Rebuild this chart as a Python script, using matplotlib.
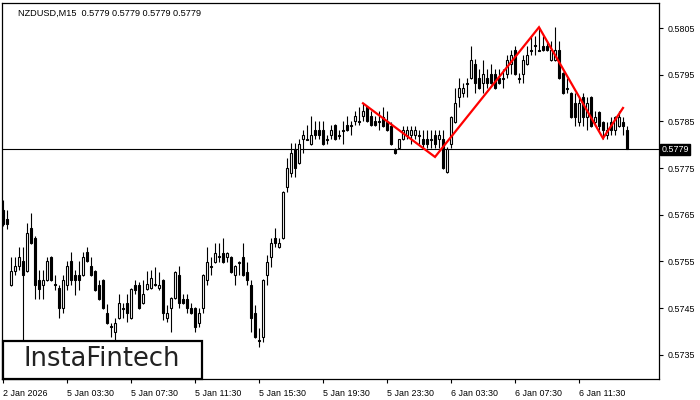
import numpy as np
import matplotlib
matplotlib.use("Agg")
import matplotlib.pyplot as plt
from matplotlib.patches import Rectangle

# NZDUSD M15 candles (one row of values per candle index)
opens = [
    .57660, .57641, .57499, .57529, .57540, .57551, .57529, .57621, .57600, .57510,
    .57499, .57510, .57559, .57501, .57493, .57450, .57499, .57551, .57521, .57521,
    .57521, .57570, .57540, .57529, .57499, .57510, .57439, .57411, .57399, .57429,
    .57450, .57461, .57429, .57499, .57499, .57461, .57491, .57493, .57501, .57493,
    .57510, .57429, .57450, .57471, .57521, .57469, .57469, .57450, .57450, .57418,
    .57450, .57510, .57540, .57549, .57561, .57568, .57559, .57559, .57521, .57549,
    .57559, .57527, .57499, .57439, .57381, .57388, .57521, .57559, .57600, .57581,
    .57600, .57709, .57739, .57791, .57761, .57812, .57812, .57801, .57831, .57831,
    .57831, .57812, .57821, .57842, .57821, .57831, .57842, .57842, .57851, .57851,
    .57861, .57881, .57861, .57851, .57851, .57859, .57849, .57840, .57791, .57793,
    .57812, .57821, .57821, .57821, .57821, .57812, .57812, .57812, .57821, .57812,
    .57812, .57741, .57801, .57849, .57902, .57911, .57932, .57943, .57973, .57943,
    .57932, .57943, .57951, .57951, .57943, .57943, .57951, .57973, .58003, .57943,
    .57951, .57973, .58003, .58014, .58003, .58011, .58011, .57981, .57981, .58003,
    .57954, .57921, .57911, .57889, .57849, .57902, .57859, .57902, .57849, .57870,
    .57849, .57821, .57849, .57831, .57840, .57849, .57831,
]
highs = [
    .57681, .57660, .57559, .57559, .57581, .57581, .57632, .57654, .57604, .57531,
    .57531, .57559, .57561, .57521, .57499, .57521, .57551, .57570, .57531, .57551,
    .57570, .57581, .57559, .57531, .57510, .57512, .57459, .57418, .57429, .57480,
    .57461, .57480, .57493, .57510, .57506, .57510, .57529, .57531, .57538, .57527,
    .57512, .57456, .57474, .57529, .57540, .57480, .57480, .57461, .57452, .57450,
    .57523, .57581, .57559, .57589, .57589, .57600, .57570, .57561, .57542, .57551,
    .57589, .57549, .57510, .57456, .57407, .57512, .57564, .57600, .57621, .57600,
    .57701, .57771, .57804, .57804, .57812, .57831, .57842, .57861, .57851, .57851,
    .57851, .57821, .57842, .57844, .57831, .57851, .57861, .57851, .57872, .57881,
    .57889, .57883, .57872, .57861, .57872, .57881, .57872, .57849, .57793, .57812,
    .57840, .57840, .57840, .57840, .57831, .57831, .57831, .57831, .57831, .57831,
    .57831, .57795, .57861, .57921, .57943, .57932, .57943, .58011, .57984, .57962,
    .57981, .57962, .57973, .57962, .57962, .57962, .57992, .58003, .58011, .57954,
    .57992, .58011, .58033, .58033, .58052, .58033, .58022, .58022, .58052, .58022,
    .57956, .57943, .57913, .57911, .57902, .57911, .57902, .57904, .57872, .57872,
    .57851, .57849, .57859, .57861, .57872, .57859, .57840,
]
lows = [
    .57626, .57619, .57497, .57521, .57531, .57371, .57527, .57587, .57469, .57469,
    .57469, .57508, .57508, .57489, .57429, .57439, .57489, .57499, .57478, .57489,
    .57519, .57549, .57519, .57486, .57467, .57448, .57416, .57388, .57381, .57426,
    .57429, .57420, .57426, .57480, .57448, .57459, .57489, .57491, .57497, .57489,
    .57424, .57420, .57399, .57469, .57450, .57459, .57439, .57437, .57399, .57409,
    .57439, .57499, .57521, .57546, .57549, .57546, .57549, .57525, .57499, .57521,
    .57519, .57499, .57399, .57386, .57366, .57377, .57499, .57538, .57581, .57579,
    .57598, .57699, .57731, .57731, .57759, .57782, .57810, .57799, .57812, .57812,
    .57799, .57801, .57812, .57810, .57812, .57801, .57829, .57821, .57842, .57842,
    .57851, .57849, .57840, .57840, .57831, .57838, .57829, .57799, .57780, .57791,
    .57810, .57812, .57801, .57812, .57801, .57793, .57793, .57793, .57793, .57793,
    .57748, .57739, .57793, .57846, .57881, .57902, .57902, .57941, .57911, .57919,
    .57911, .57921, .57930, .57919, .57930, .57921, .57943, .57951, .57949, .57932,
    .57932, .57971, .57992, .57992, .58001, .58001, .58001, .57979, .57979, .57941,
    .57909, .57911, .57857, .57840, .57840, .57840, .57831, .57838, .57840, .57831,
    .57812, .57812, .57821, .57821, .57838, .57821, .57790,
]
closes = [
    .57630, .57630, .57529, .57540, .57559, .57521, .57611, .57589, .57499, .57491,
    .57510, .57551, .57510, .57499, .57450, .57510, .57540, .57510, .57510, .57510,
    .57559, .57551, .57521, .57489, .57469, .57450, .57418, .57409, .57418, .57461,
    .57448, .57439, .57491, .57489, .57450, .57480, .57501, .57514, .57499, .57499,
    .57439, .57439, .57471, .57527, .57461, .57461, .57450, .57439, .57409, .57439,
    .57521, .57549, .57538, .57568, .57559, .57549, .57568, .57527, .57540, .57546,
    .57521, .57510, .57429, .57388, .57379, .57510, .57549, .57589, .57589, .57589,
    .57699, .57750, .57782, .57750, .57801, .57821, .57810, .57821, .57821, .57821,
    .57801, .57810, .57831, .57812, .57819, .57829, .57831, .57840, .57861, .57849,
    .57872, .57851, .57842, .57842, .57849, .57840, .57831, .57801, .57782, .57812,
    .57831, .57831, .57831, .57831, .57819, .57801, .57801, .57810, .57801, .57821,
    .57750, .57791, .57859, .57889, .57921, .57921, .57930, .57981, .57932, .57921,
    .57951, .57932, .57932, .57921, .57932, .57941, .57981, .57992, .57951, .57941,
    .57981, .57992, .58001, .58011, .58001, .58003, .58003, .58003, .58003, .57943,
    .57911, .57919, .57859, .57859, .57889, .57859, .57889, .57840, .57859, .57840,
    .57831, .57831, .57831, .57859, .57859, .57840, .57790,
]

# head and shoulders pattern drawn over the chart (bar index, price)
pattern_x = [90, 108, 134, 150, 155]
pattern_y = [0.57889, 0.57774, 0.58052, 0.57814, 0.57879]

time_ticks = [0, 16, 32, 48, 64, 80, 96, 112, 128, 144]
time_labels = ['2 Jan 2026', '5 Jan 03:30', '5 Jan 07:30', '5 Jan 11:30', '5 Jan 15:30',
               '5 Jan 19:30', '5 Jan 23:30', '6 Jan 03:30', '6 Jan 07:30', '6 Jan 11:30']
price_ticks = [0.5735, 0.5745, 0.5755, 0.5765, 0.5775, 0.5785, 0.5795, 0.5805]
last_price = 0.5779
title = 'NZDUSD,M15  0.5779 0.5779 0.5779 0.5779'

FONT = 'Liberation Sans'
FS = 6.4

fig = plt.figure(figsize=(7, 4), dpi=100)
ax = fig.add_axes([2 / 700, 21 / 400, 657 / 700, 376 / 400])

o = np.array(opens)
h = np.array(highs)
l = np.array(lows)
c = np.array(closes)
idx = np.arange(len(o))

ax.vlines(idx, l, h, color='black', linewidth=0.8, zorder=2)
up = c >= o
body_low = np.minimum(o, c)
body_h = np.abs(c - o)
ax.bar(idx[up], body_h[up], bottom=body_low[up], width=0.5, color='white',
       edgecolor='black', linewidth=0.8, zorder=3)
ax.bar(idx[~up], body_h[~up], bottom=body_low[~up], width=0.5, color='black',
       edgecolor='black', linewidth=0.8, zorder=3)

ax.axhline(last_price, color='black', linewidth=0.8, zorder=1)
ax.plot(pattern_x, pattern_y, color='#ff0000', linewidth=1.6, zorder=4,
        solid_joinstyle='miter')

ax.set_xlim(-0.25, 164)
ax.set_ylim(0.57298, 0.58104)

for s in ax.spines.values():
    s.set_linewidth(0.9)

ax.yaxis.tick_right()
ax.set_yticks(price_ticks)
ax.set_yticklabels(['%.4f' % p for p in price_ticks], fontsize=FS, family=FONT)
ax.tick_params(axis='y', direction='out', length=3, width=0.8, pad=3)

ax.set_xticks(time_ticks)
ax.set_xticklabels(time_labels, fontsize=FS, family=FONT, ha='left')
ax.tick_params(axis='x', direction='out', length=3, width=0.8, pad=4)

# current price box on the right scale
ax.text(1.004, last_price, '0.5779', transform=ax.get_yaxis_transform(),
        ha='left', va='center', fontsize=FS, family=FONT, color='white',
        bbox=dict(boxstyle='square,pad=0.15', fc='black', ec='black'), zorder=5)

ax.text(16 / 657, 0.985, title, transform=ax.transAxes, ha='left', va='top',
        fontsize=6.6, family=FONT, color='black')

# logo box
fig.add_artist(Rectangle((3 / 700, 21 / 400), 199 / 700, 38 / 400,
                         transform=fig.transFigure, facecolor='white',
                         edgecolor='black', linewidth=1.6, zorder=10))
fig.text(102 / 700, 41 / 400, 'InstaFintech', ha='center', va='center',
         fontsize=18.5, family='DejaVu Sans', color='#222222', zorder=11)

fig.savefig('out.png', dpi=100)
